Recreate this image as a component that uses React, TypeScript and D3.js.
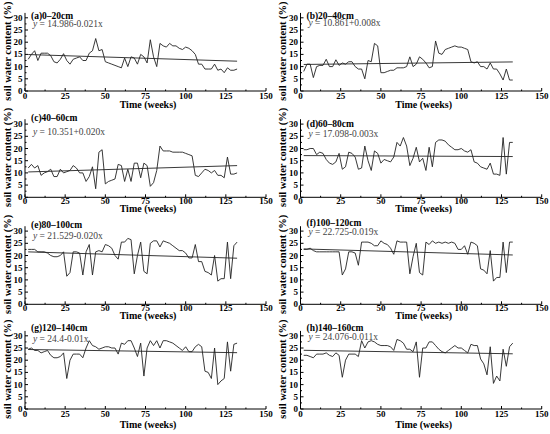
import * as d3 from 'd3';

// sampling weeks shared by all depths
const weeks = [
  2, 4, 6, 8, 10, 12, 14, 16, 18, 20,
  22, 24, 26, 28, 30, 32, 34, 36, 38, 40,
  42, 44, 46, 48, 50, 52, 54, 56, 58, 60,
  62, 64, 66, 68, 70, 72, 74, 76, 78, 80,
  82, 84, 86, 88, 90, 92, 94, 96, 98, 100,
  102, 104, 106, 108, 110, 112, 114, 116, 118, 120,
  122, 124, 126, 128, 130, 132,
];

const swc0_20 = [
  13, 15, 16.5, 12.5, 15.5, 15.5, 15.5, 14.5, 12, 11.5,
  13, 15.3, 12.5, 11, 13, 13.5, 14, 12.5, 12.5, 15.5,
  16.5, 21.5, 16.5, 17, 12, 11.5, 11, 10.5, 10, 9.5,
  13.5, 10, 14, 13.5, 11, 15, 14, 11.5, 21, 14,
  10, 19.5, 18.5, 18, 19.5, 18.5, 18.5, 17.5, 17, 18,
  17.5, 16.5, 15, 11, 11, 9, 9, 9, 11, 8.5,
  9, 7.5, 9.5, 8.5, 8.5, 9,
];
const swc20_40 = [
  8, 11, 11, 5.5, 10, 10.5, 10.5, 13, 10, 10,
  12.8, 10.5, 11.5, 11, 12, 12, 10, 9, 9, 5,
  12.5, 12, 19.5, 18.5, 7.5, 7.5, 8, 8.5, 8.5, 9.5,
  9.5, 9.5, 10, 14, 10, 11, 14, 13, 11.5, 9.5,
  10, 20.5, 15.5, 15, 17, 17.5, 18, 18.5, 18, 18,
  17.5, 17, 12, 11.5, 12, 10, 10, 9, 11.5, 9,
  9, 7, 4.5, 9, 4.5, 4.5,
];
const swc40_60 = [
  12, 13.5, 12, 13, 9, 10, 10.5, 11.5, 8.5, 8.5,
  11.5, 10, 10.5, 11, 13, 12, 10, 10, 6.5, 8.5,
  12.5, 3.5, 18.5, 19.5, 5.5, 6.5, 7, 7.5, 13.5, 13,
  6.5, 11.5, 6.5, 14, 14, 8, 14, 13, 4.5, 6,
  11, 21, 19, 19, 19, 18.5, 18.5, 18.5, 18.5, 18,
  17.5, 17, 9, 8.5, 10, 11.5, 11, 10, 11, 9,
  9, 8, 16.5, 9.5, 9.5, 10,
];
const swc60_80 = [
  19.5, 19.5, 20, 20, 17.5, 18.5, 18, 15.5, 14, 13.5,
  14.5, 18, 11.5, 12.5, 18.5, 18, 16.5, 11.5, 12, 21,
  15, 11, 19, 18, 14, 15.5, 15, 14.5, 16.5, 22.5,
  21, 24.5, 21, 13, 16, 20.5, 14.5, 16, 11, 20.5,
  12.5, 22.5, 23.5, 23.5, 23, 21.5, 20.5, 19.5, 19.5, 20,
  19, 18.5, 19.5, 14.5, 14, 12.5, 12, 11.5, 14, 9.5,
  9.5, 9, 24.5, 9.5, 22.5, 22.5,
];
const swc80_100 = [
  22.5, 22.5, 22.5, 21.5, 21.5, 21.5, 21, 20, 19.5, 19.5,
  20, 21.5, 11.5, 13, 21.5, 21.5, 21, 12, 21.5, 24.5,
  12, 21.5, 22, 21.5, 24.5, 24, 23, 20, 18.5, 25.5,
  25.5, 27, 26.5, 12.5, 20, 25.5, 13.5, 12.5, 25, 26,
  26, 23.5, 26, 25.5, 25, 24, 23, 22, 22, 21,
  19, 19, 24.5, 17.5, 17.5, 13.5, 13, 12, 20, 9.5,
  10.5, 10.5, 25.5, 10.5, 24, 25.5,
];
const swc100_120 = [
  22.5, 22.5, 23, 22, 21.5, 21.5, 21.5, 21.5, 21.5, 21.5,
  21.5, 21.5, 12, 14.5, 21.5, 21.5, 21, 16, 25.5, 25.5,
  25.5, 25, 24, 24, 26, 25, 24.5, 23, 20.5, 26,
  25.5, 25.5, 25.5, 12.5, 19.5, 25, 13, 12, 25.5, 24.5,
  26, 25, 25.5, 25, 25.5, 25, 25.5, 25, 22.5, 22.5,
  24, 20.5, 25.5, 25, 24, 14.5, 14, 12.5, 22, 9.5,
  11, 11, 25.5, 13, 25.5, 25.5,
];
const swc120_140 = [
  24.5, 25, 24, 24, 23, 23.5, 24, 22, 21, 21,
  21.5, 23, 12.5, 20, 22.5, 22.5, 22.5, 21, 25, 28,
  26, 25.5, 24.5, 25, 25.5, 25.5, 25, 25, 22.5, 27,
  26.5, 28, 28, 25, 21.5, 27, 13.5, 25, 28, 26,
  28, 25, 28, 28, 27.5, 27, 26, 25, 24, 25.5,
  23.5, 23.5, 25.5, 26.5, 25.5, 15.5, 15, 12.5, 25, 10,
  11.5, 12.5, 27.5, 15.5, 26.5, 27,
];
const swc140_160 = [
  22, 22, 21.5, 21, 22.5, 22.5, 22.5, 23, 22, 21.5,
  23, 22, 13, 20, 22.5, 22.5, 22.5, 21.5, 28, 25,
  27.5, 28, 27.5, 26.5, 26, 26, 26, 25.5, 24, 28.5,
  28, 27, 24.5, 24.5, 23.5, 27.5, 13, 25, 25, 27.5,
  27.5, 26, 24.5, 23.5, 23, 24, 25, 26, 25, 25,
  24, 23, 26.5, 26, 26, 20.5, 18.5, 14, 25.5, 10.5,
  13.5, 11.5, 24.5, 17.5, 25.5, 27,
];

const titles = ['(a)0–20cm', '(b)20–40cm', '(c)40–60cm', '(d)60–80cm',
  '(e)80–100cm', '(f)100–120cm', '(g)120–140cm', '(h)140–160cm'];
const intercepts = [14.986, 10.861, 10.351, 17.098, 21.529, 22.725, 24.4, 24.076];
const slopes = [-0.021, 0.008, 0.020, -0.003, -0.020, -0.019, -0.01, -0.011];
const equations = ['14.986-0.021x', '10.861+0.008x', '10.351+0.020x', '17.098-0.003x',
  '21.529-0.020x', '22.725-0.019x', '24.4-0.01x', '24.076-0.011x'];
const series = [swc0_20, swc20_40, swc40_60, swc60_80, swc80_100, swc100_120, swc120_140, swc140_160];

const xTicks = [0, 25, 50, 75, 100, 125, 150];
const yTicks = [0, 5, 10, 15, 20, 25, 30];

// layout (pixels)
const colLeft = [25, 300.5];
const colRight = [266, 541.7];
const rowZero = [91, 197.3, 304.3, 409];
const tickLabelDy = [8.2, 6.5, 6.5, 8.2];
const axisLabelDy = [16.8, 15, 15, 18.5];
const titleDy = [0.7, 0.7, -3.3, 3, -3, -5, -4.4, -5];
const eqDy = [9, 8.4, 10.5, 12.5, 7.7, 4.2, 6.6, 4.5];
const font = '"Liberation Serif", "Times New Roman", serif';

function Panel({ i }: { i: number }) {
  const col = i % 2;
  const row = Math.floor(i / 2);
  const x = d3.scaleLinear().domain([0, 150]).range([colLeft[col], colRight[col]]);
  const y = d3.scaleLinear().domain([0, 32]).range([rowZero[row], rowZero[row] - 32 * 2.44]);
  const values = series[i];
  const line = d3.line<number>().x((_d, k) => x(weeks[k])).y(d => y(d));
  const x0 = weeks[0];
  const x1 = weeks[weeks.length - 1];
  const fit = d3.line<number>().x(d => x(d)).y(d => y(intercepts[i] + slopes[i] * d));
  const xMinor = d3.range(12.5, 150, 25);
  const yMinor = d3.range(2.5, 32, 5);
  const left = x(0);
  const bottom = y(0);

  return (
    <g>
      <line x1={left} x2={x(150)} y1={bottom} y2={bottom} stroke="#000" strokeWidth={1} />
      <line x1={left} x2={left} y1={bottom} y2={y(32)} stroke="#000" strokeWidth={1} />
      {xTicks.map(t => (
        <g key={'xt' + t}>
          <line x1={x(t)} x2={x(t)} y1={bottom} y2={bottom - 3} stroke="#000" />
          <text x={x(t)} y={bottom + tickLabelDy[row]} textAnchor="middle" fontSize={9}
            fontWeight="bold" fontFamily={font}>{t}</text>
        </g>
      ))}
      {xMinor.map(t => (
        <line key={'xm' + t} x1={x(t)} x2={x(t)} y1={bottom} y2={bottom - 1.5} stroke="#000" />
      ))}
      {yTicks.map(t => (
        <g key={'yt' + t}>
          <line x1={left} x2={left + 3} y1={y(t)} y2={y(t)} stroke="#000" />
          <text x={left - 2.5} y={y(t) + 3} textAnchor="end" fontSize={9}
            fontWeight="bold" fontFamily={font}>{t}</text>
        </g>
      ))}
      {yMinor.map(t => (
        <line key={'ym' + t} x1={left} x2={left + 1.5} y1={y(t)} y2={y(t)} stroke="#000" />
      ))}
      <path d={line(values) || ''} fill="none" stroke="#222" strokeWidth={0.9} />
      <path d={fit([x0, x1]) || ''} fill="none" stroke="#222" strokeWidth={0.9} />
      <text x={left + 6} y={y(30) + titleDy[i]} fontSize={9.5} fontWeight="bold" fontFamily={font}>
        {titles[i]}
      </text>
      <text x={left + 8} y={y(30) + eqDy[i]} fontSize={9.5} fill="#444" fontFamily={font}>
        <tspan fontStyle="italic">y</tspan> = {equations[i]}
      </text>
      <text x={(left + x(150)) / 2 + 2.5} y={bottom + axisLabelDy[row]} textAnchor="middle"
        fontSize={10} fontWeight="bold" fontFamily={font}>Time (weeks)</text>
      <text transform={`translate(${left - 14.5},${bottom - 40}) rotate(-90)`} textAnchor="middle"
        fontSize={10.5} fontWeight="bold" fontFamily={font}>soil water content (%)</text>
    </g>
  );
}

export default function App() {
  return (
    <svg width={550} height={434} style={{ position: 'absolute', left: 0, top: 0, background: '#fff' }}>
      <rect width={550} height={434} fill="#fff" />
      {series.map((_s, i) => <Panel key={i} i={i} />)}
    </svg>
  );
}
